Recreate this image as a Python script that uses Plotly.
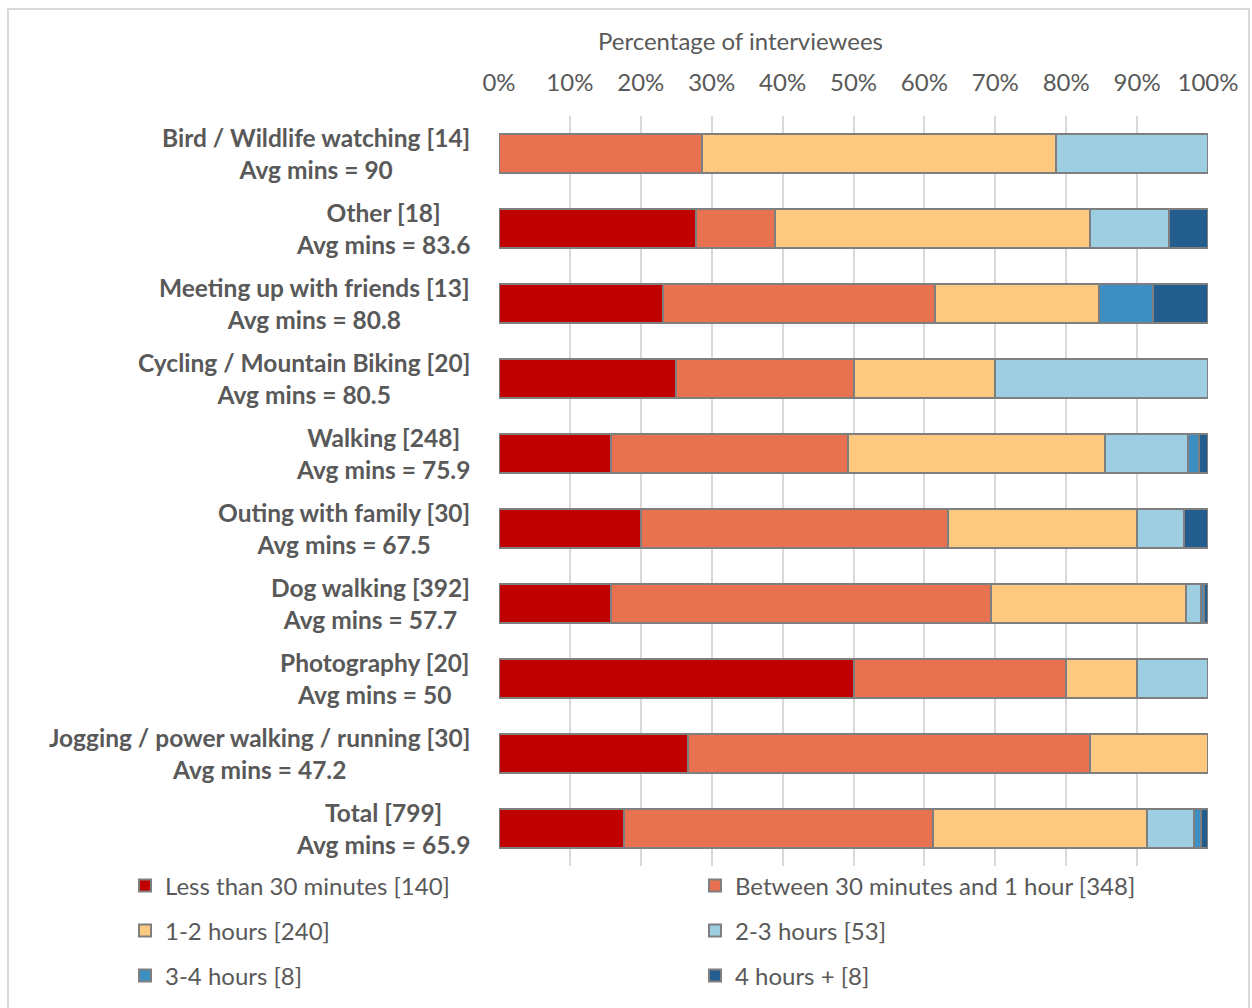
import plotly.graph_objects as go

# Activities, top to bottom, with number of respondents and average minutes
activities = [
    "Bird / Wildlife watching", "Other", "Meeting up with friends",
    "Cycling / Mountain Biking", "Walking", "Outing with family",
    "Dog walking", "Photography", "Jogging / power walking / running", "Total",
]
respondents = [14, 18, 13, 20, 248, 30, 392, 20, 30, 799]
avg_mins = ["90", "83.6", "80.8", "80.5", "75.9", "67.5", "57.7", "50", "47.2", "65.9"]

# Respondents per visit-duration band (stacked and normalised to 100 %)
less_30 = [0, 5, 3, 5, 39, 6, 62, 10, 8, 140]
min30_1h = [4, 2, 5, 5, 83, 13, 210, 6, 17, 348]
h1_2 = [7, 8, 3, 4, 90, 8, 108, 2, 5, 240]
h2_3 = [3, 2, 0, 6, 29, 2, 8, 2, 0, 53]
h3_4 = [0, 0, 1, 0, 4, 0, 2, 0, 0, 8]
h4_plus = [0, 1, 1, 0, 3, 1, 2, 0, 0, 8]

band_names = ["Less than 30 minutes", "Between 30 minutes and 1 hour", "1-2 hours",
              "2-3 hours", "3-4 hours", "4 hours +"]
band_values = [less_30, min30_1h, h1_2, h2_3, h3_4, h4_plus]
band_colors = ["#C00000", "#E8714F", "#FCC981", "#9DCEE2", "#3D8EC3", "#235E8F"]

x_ticks = list(range(0, 101, 10))

FONT = "Lato"
TEXT = "#595959"
W, H = 1252, 1008
ML, MR, MT, MB = 499, 44, 116, 142
PW, PH = W - ML - MR, H - MT - MB


def px_x(px):
    """Page pixel column -> paper x."""
    return (px - ML) / PW


def px_y(py):
    """Page pixel row -> paper y."""
    return (H - MB - py) / PH


# Legend grid: two columns, three rows (pixel positions of each entry)
legend_cols = [125, 695]
legend_rows = [886, 931, 976]

fig = go.Figure()
legend_layout = {}
for i, (name, vals, col) in enumerate(zip(band_names, band_values, band_colors)):
    key = "legend" if i == 0 else f"legend{i + 1}"
    fig.add_trace(go.Bar(
        y=activities, x=vals, orientation="h", name=f"{name} [{vals[-1]}]",
        marker=dict(color=col, line=dict(color="#7F7F7F", width=2)),
        legend=key, hoverinfo="skip",
    ))
    legend_layout[key] = dict(
        xref="container", yref="container",
        x=legend_cols[i % 2] / W, y=1 - legend_rows[i // 2] / H,
        xanchor="left", yanchor="middle", bgcolor="rgba(0,0,0,0)",
        font=dict(family=FONT, size=24, color=TEXT), itemclick=False,
    )

# Two-line category labels, centred on each other and right-aligned to the axis
for act, n, avg in zip(activities, respondents, avg_mins):
    fig.add_annotation(
        x=0, xref="paper", y=act, yref="y", xanchor="right", yanchor="middle",
        xshift=-27, align="center", showarrow=False,
        text=f"<b>{act} [{n}]</b><br><b>Avg mins = {avg}</b>",
        font=dict(family=FONT, size=24.5, color=TEXT),
    )

# Axis title above the percentage ticks
fig.add_annotation(
    x=px_x(740), y=px_y(41), xref="paper", yref="paper",
    xanchor="center", yanchor="middle", showarrow=False,
    text="Percentage of interviewees",
    font=dict(family=FONT, size=24, color=TEXT),
)

# Light frame round the whole chart
fig.add_shape(type="rect", xref="paper", yref="paper",
              x0=px_x(8), x1=px_x(1249), y0=px_y(1015), y1=px_y(9),
              line=dict(color="#D9D9D9", width=2), fillcolor="rgba(0,0,0,0)", layer="below")

fig.update_layout(
    width=W, height=H, barmode="stack", barnorm="percent", bargap=0.47,
    paper_bgcolor="white", plot_bgcolor="white",
    margin=dict(l=ML, r=MR, t=MT, b=MB, autoexpand=False),
    font=dict(family=FONT, color=TEXT),
    showlegend=True,
    xaxis=dict(
        side="top", range=[0, 100], tickvals=x_ticks,
        ticktext=[f"{t}%" for t in x_ticks],
        showgrid=True, gridcolor="#D9D9D9", gridwidth=1.5,
        zeroline=False, showline=False, ticks="",
        tickfont=dict(family=FONT, size=24, color=TEXT),
        ticklabelstandoff=19, automargin=False,
    ),
    yaxis=dict(autorange="reversed", showticklabels=False, showgrid=False,
               zeroline=False, showline=False, ticks="", automargin=False),
    **legend_layout,
)

fig.write_html("out.html")
